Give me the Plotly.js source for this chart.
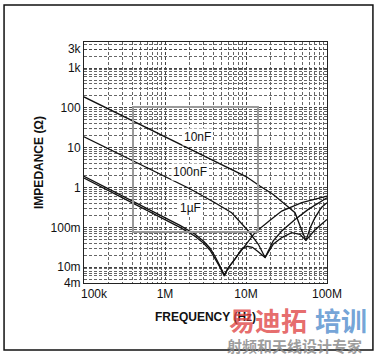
<!DOCTYPE html>
<html>
<head>
<meta charset="utf-8">
<script src="https://cdn.plot.ly/plotly-3.0.1.min.js"></script>
<style>html,body{margin:0;padding:0;background:#fff;}#chart{width:378px;height:355px;}</style>
</head>
<body>
<div id="chart"></div>
<script>
// Frequency tick labels
const xTickVals = [1e5, 1e6, 1e7, 1e8];
const xTickText = ['\u00a0\u00a0\u00a0\u00a0\u00a0\u00a0100k', '1M', '10M', '100M'];
// Impedance tick labels
const yTickVals = [0.004, 0.01, 0.1, 1, 10, 100, 1000, 3000];
const yTickText = ['4m', '10m', '100m', '1', '10', '100', '1k', '3k'];

// 10nF capacitor (Hz, ohm)
const freq10n = [1e5, 1e6, 1e7, 1.5e7, 2.17e7, 3.0e7, 4.03e7, 4.82e7, 5.5e7, 6.24e7, 7.03e7, 8.53e7, 1e8];
const z10n    = [188, 18.8, 1.88, 1.078, 0.668, 0.385, 0.233, 0.089, 0.047, 0.1, 0.168, 0.316, 0.4145];

// 100nF capacitor
const freq100n = [1e5, 1e6, 2.0e6, 4.14e6, 6.65e6, 1.07e7, 1.42e7, 1.72e7, 2.17e7, 2.76e7, 4.03e7, 5.87e7, 1e8];
const z100n    = [18.8, 1.88, 0.944, 0.4145, 0.233, 0.0808, 0.0376, 0.0175, 0.0455, 0.0808, 0.158, 0.282, 0.553];

// 1uF capacitor
const freq1u = [1e5, 1e6, 1.53e6, 2.35e6, 3.0e6, 3.6e6, 4.14e6, 4.77e6, 5.4e6, 6.0e6, 7.3e6, 9.7e6, 1.29e7, 1.98e7, 2.76e7, 4.88e7, 1e8];
const z1u    = [1.92, 0.178, 0.112, 0.0668, 0.0447, 0.0299, 0.0188, 0.0106, 0.0063, 0.0094, 0.0158, 0.0355, 0.0737, 0.151, 0.2555, 0.4145, 0.606];

// 1uF || 100nF || 10nF combined
const freqAll = [1e5, 1e6, 1.53e6, 2.35e6, 3.0e6, 3.6e6, 4.14e6, 4.77e6, 5.4e6, 6.0e6, 7.3e6, 8.8e6, 1.03e7, 1.2e7, 1.39e7, 1.59e7, 1.72e7, 2.17e7, 2.76e7, 3.66e7, 4.64e7, 5.5e7, 6.24e7, 7.03e7, 8.53e7, 1e8];
const zAll    = [1.73, 0.158, 0.1, 0.0596, 0.0398, 0.0266, 0.0168, 0.01, 0.006, 0.0094, 0.0158, 0.0282, 0.0335, 0.0316, 0.0251, 0.02, 0.0175, 0.0376, 0.0553, 0.0737, 0.0668, 0.047, 0.063, 0.0841, 0.119, 0.158];

const seriesNames = ['10nF', '100nF', '1µF', 'combined'];

const lineStyle = {color: '#111', width: 1.3};
const traces = [
  {x: freq10n, y: z10n, name: seriesNames[0]},
  {x: freq100n, y: z100n, name: seriesNames[1]},
  {x: freq1u, y: z1u, name: seriesNames[2]},
  {x: freqAll, y: zAll, name: seriesNames[3]}
].map(t => Object.assign(t, {type: 'scatter', mode: 'lines', line: lineStyle, hoverinfo: 'skip'}));

const font = {family: 'Liberation Sans, Arial, sans-serif', size: 12, color: '#111'};
const gridCommon = {
  showgrid: true, gridcolor: '#444', griddash: '3px,2px', gridwidth: 1,
  minor: {dtick: 'D1', showgrid: true, gridcolor: '#666', griddash: '3px,2px', gridwidth: 1, ticks: ''},
  showline: true, mirror: true, linecolor: '#222', linewidth: 1,
  ticks: '', zeroline: false, tickfont: font
};

const layout = {
  width: 378, height: 355,
  margin: {l: 84, r: 51, t: 42, b: 72},
  paper_bgcolor: '#fff', plot_bgcolor: '#fff',
  showlegend: false,
  font: font,
  xaxis: Object.assign({}, gridCommon, {
    type: 'log', range: [5, 8], tickmode: 'array', tickvals: xTickVals, ticktext: xTickText,
    title: {text: 'FREQUENCY (Hz)', font: {family: font.family, size: 12, color: '#111', weight: 'bold'}, standoff: 12}
  }),
  yaxis: Object.assign({}, gridCommon, {
    type: 'log', range: [Math.log10(0.004), Math.log10(4500)], tickmode: 'array', tickvals: yTickVals, ticktext: yTickText,
    title: {text: 'IMPEDANCE (Ω)', font: {family: font.family, size: 12, color: '#111', weight: 'bold'}, standoff: 4}
  }),
  annotations: [
    {text: seriesNames[0], xref: 'paper', yref: 'paper', x: 0.469, y: 0.606, showarrow: false, bgcolor: '#fff', font: font},
    {text: seriesNames[1], xref: 'paper', yref: 'paper', x: 0.436, y: 0.461, showarrow: false, bgcolor: '#fff', font: font},
    {text: seriesNames[2], xref: 'paper', yref: 'paper', x: 0.440, y: 0.274, showarrow: false, bgcolor: '#fff', font: font},
    {text: '易迪拓', xref: 'paper', yref: 'paper', x: 0.592, y: -0.152, xanchor: 'left', yanchor: 'middle', showarrow: false, borderpad: 0,
     font: {family: 'Noto Sans CJK SC', size: 26, color: 'rgba(224,70,70,0.8)', weight: 'bold'}},
    {text: '培训', xref: 'paper', yref: 'paper', x: 0.945, y: -0.152, xanchor: 'left', yanchor: 'middle', showarrow: false, borderpad: 0,
     font: {family: 'Noto Sans CJK SC', size: 26, color: 'rgba(80,140,205,0.8)', weight: 'bold'}},
    {text: '射频和天线设计专家', xref: 'paper', yref: 'paper', x: 0.586, y: -0.258, xanchor: 'left', yanchor: 'middle', showarrow: false, borderpad: 0,
     font: {family: 'Noto Sans CJK SC', size: 15, color: 'rgba(140,140,140,0.85)', weight: 'bold'}}
  ],
  shapes: [
    {type: 'rect', xref: 'paper', yref: 'paper', x0: -0.329, x1: 1.189, y0: -0.278, y1: 1.1535, line: {color: '#111', width: 1.5}},
    {type: 'rect', xref: 'paper', yref: 'paper', x0: 0.2016, x1: 0.716, y0: 0.2116, y1: 0.730, line: {color: '#999', width: 2}, layer: 'above'}
  ]
};

Plotly.newPlot('chart', traces, layout, {staticPlot: true, displayModeBar: false});
</script>
</body>
</html>
